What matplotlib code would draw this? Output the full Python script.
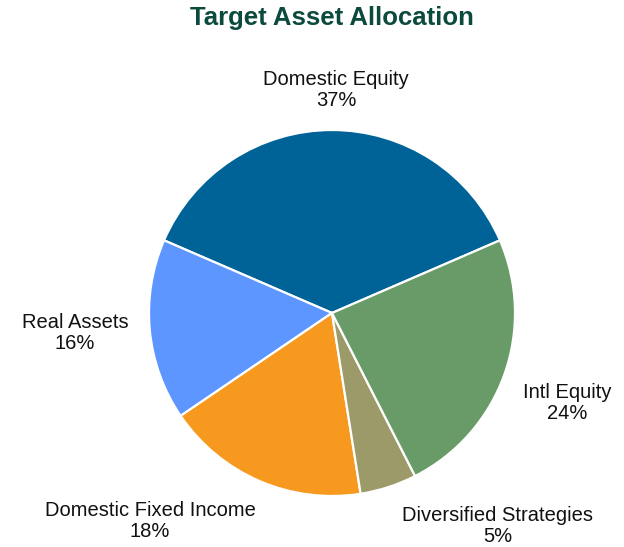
import matplotlib
matplotlib.use("Agg")
import matplotlib.pyplot as plt

labels = ["Domestic Equity", "Real Assets", "Domestic Fixed Income",
          "Diversified Strategies", "Intl Equity"]
shares = [37, 16, 18, 5, 24]
colors = ["#006398", "#5E96FF", "#F7991F", "#9C9A68", "#689B67"]

# label anchor positions in pixel space (x, y from top)
label_pos = [(336, 90), (75, 333), (150, 521), (498, 526), (567, 403)]

W, H = 624, 547
fig = plt.figure(figsize=(W / 100, H / 100), dpi=100)
ax = fig.add_axes([0, 0, 1, 1])

start = 90 - shares[0] / 100 * 360 / 2
ax.pie(shares, colors=colors, startangle=start, counterclock=True,
       center=(332, H - 313), radius=183,
       wedgeprops=dict(edgecolor="white", linewidth=1.6))

# pie() resets limits, so set them afterwards
ax.set_xlim(0, W)
ax.set_ylim(0, H)
ax.set_aspect("equal")
ax.axis("off")

for lab, val, (x, y) in zip(labels, shares, label_pos):
    ax.text(x, H - y, f"{lab}\n{val}%", ha="center", va="center",
            fontsize=14.5, family="Liberation Sans", color="#111111",
            linespacing=1.15)

ax.text(332, H - 18, "Target Asset Allocation", ha="center", va="center",
        fontsize=18.5, fontweight="bold", family="Liberation Sans",
        color="#0B4A3D")

fig.savefig("out.png", dpi=100)
